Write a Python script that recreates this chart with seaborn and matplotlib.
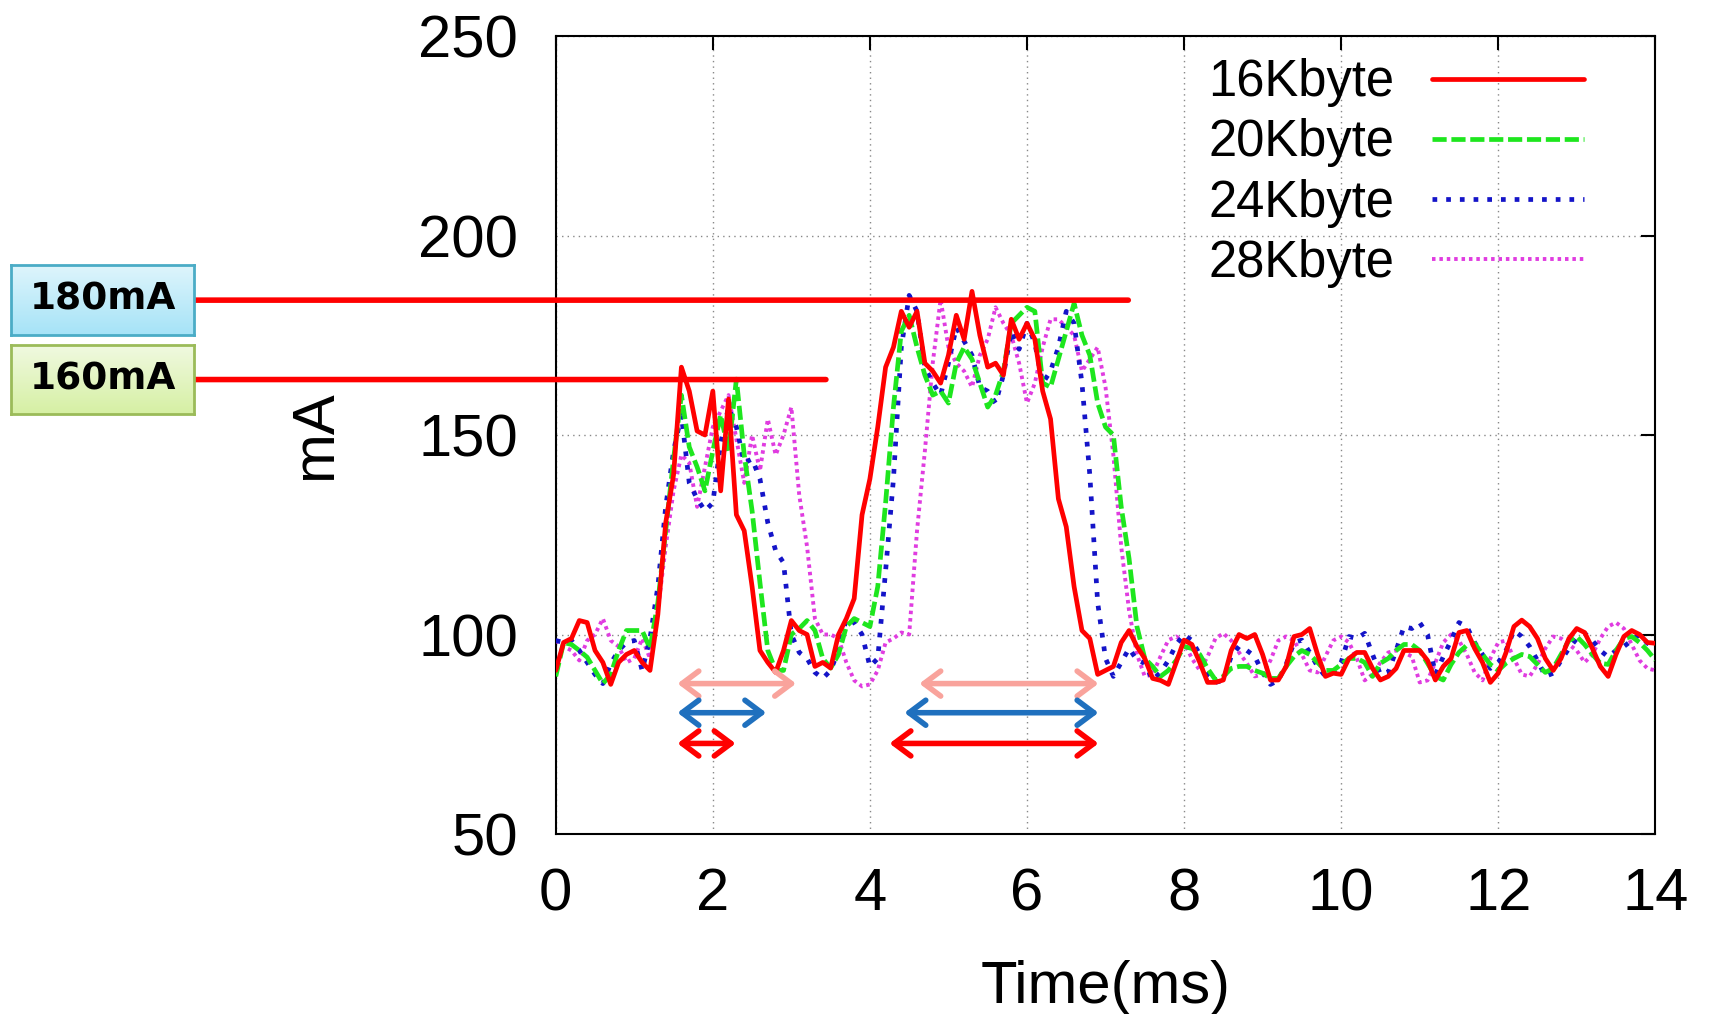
import numpy as np
import pandas as pd
import matplotlib.pyplot as plt
from matplotlib.colors import LinearSegmentedColormap
import seaborn as sns

# sampling grid (ms)
time_ms = np.round(np.arange(141) * 0.1, 1)

kb16 = [91, 98, 99, 103.5, 103, 96, 93, 87.5, 93, 95,
        96, 93, 91, 105, 128, 140, 167, 161, 151, 150,
        161, 136, 159, 130, 126, 112, 96, 93, 90.5, 96,
        103.5, 101, 100, 92, 93, 91.6, 100, 104, 109, 130,
        139, 152, 167, 172, 181, 177, 181, 168, 166, 163,
        170, 180, 174, 186, 175, 167, 168, 165, 179, 174,
        178, 174, 161, 154, 134, 127, 112, 101, 99, 90,
        91, 92, 98, 101, 97, 94, 89, 88.5, 87.5, 93,
        98.6, 97.5, 93, 88, 88, 88.6, 96, 100, 99, 100,
        95, 88.6, 88.6, 92, 99.5, 100, 101.5, 95, 89.5, 90.3,
        90, 94, 95.5, 95.5, 91.5, 88.6, 89.5, 91.5, 96, 96,
        96, 93.5, 88.6, 92, 94, 100.5, 101, 96.5, 93, 88,
        90.3, 95.5, 102, 103.6, 102, 99, 94, 91, 94, 99,
        101.5, 100.5, 96.5, 92, 89.5, 95, 99.5, 101, 100, 98,
        97.8]
kb20 = [89.5, 98, 97.5, 96, 94.3, 91, 87.7, 90, 96, 101,
        101, 101, 96.5, 108, 126, 144, 160, 147, 142, 136,
        146, 155, 146, 164, 145, 131, 113, 96, 91, 91,
        100, 101.5, 103.5, 101, 94, 91.6, 95, 102, 104, 103,
        102, 112, 133, 157, 176, 180, 172, 165, 160, 161,
        158, 168, 172, 169, 163, 157, 160, 166, 178, 180,
        182, 181, 163, 162, 169, 176, 183, 175, 170, 158,
        152, 150, 132, 119, 102, 94, 92, 89.5, 91, 93.5,
        97, 96.5, 95, 91.5, 88.6, 89.5, 91.5, 92, 92, 91,
        90.3, 89, 89, 92, 94.5, 96, 95, 93, 91, 91,
        92.5, 94, 94, 93, 89.5, 92.8, 94, 96, 97.5, 97.5,
        96, 92.8, 89.5, 88.6, 92.5, 95.5, 97.3, 97.8, 95, 92.5,
        91, 92.8, 94, 95, 94.5, 92.5, 90.5, 91.5, 95, 98.5,
        99.5, 97.5, 95, 92.8, 92.5, 96, 99, 99.5, 98, 96,
        93.6]
kb24 = [98.5, 98, 98.5, 96, 93, 90, 87.7, 92.7, 96, 98,
        98.5, 91, 99, 112, 132, 146, 155, 138, 134, 131,
        133, 148, 157, 152, 143, 144, 139, 128, 121, 118,
        100, 95.5, 94, 90.5, 89, 91, 96, 104, 103, 100,
        92, 94, 116, 139, 172, 185, 181, 167, 163, 160,
        168, 177, 173.5, 170, 162, 161, 158, 165, 176, 171.5,
        178, 173, 163, 166, 172, 181, 178, 163, 140, 108,
        94, 89.5, 93, 96.5, 93.6, 92.8, 88.6, 90.5, 93.5, 97.5,
        100, 98.5, 95, 90, 88, 88.5, 94.5, 97, 96, 94.5,
        90.5, 87.5, 88.5, 92.5, 98, 98.6, 95.5, 92, 89.5, 90.5,
        93, 99.5, 99, 100.3, 95, 90, 90.5, 96, 102, 101.5,
        103, 100, 90, 94.4, 98.5, 103, 102, 98, 95, 91.5,
        93, 96, 101, 99.5, 97, 93.5, 89.5, 90.3, 93.5, 96.5,
        99, 100.3, 98.5, 96, 94.4, 96, 97, 98.5, 100, 97.8,
        97]
kb28 = [98.5, 97, 96, 93.5, 98.5, 100, 104, 98.5, 97, 93,
        94, 99, 94, 106, 122, 136, 145, 143, 132, 142,
        152, 156, 160, 149, 138, 150, 141, 154, 145, 150,
        157, 135, 122, 104, 100, 100, 99, 93, 88.5, 87,
        87.5, 91, 98, 99, 100.5, 100, 126, 146, 168, 184,
        172, 168, 166, 162, 170, 174, 182, 178, 175, 168,
        158, 163, 172, 179, 179, 177, 175, 166, 169, 172,
        162, 145, 122, 106, 95, 89.5, 90, 94.5, 98.6, 99.5,
        98, 94, 91, 94.5, 99, 100.3, 98.5, 95.5, 92.8, 89.5,
        90, 93.5, 98.5, 99.5, 98.5, 95, 91, 90.5, 94.5, 98.5,
        99.5, 98, 94, 88.5, 90, 93, 95.5, 96, 95.5, 94.5,
        88, 88.5, 93, 98, 100, 98.5, 95, 90.5, 88.5, 94,
        98, 98.5, 94, 90, 89.5, 92.5, 96.5, 99.5, 99, 97.5,
        96, 93, 95, 99, 102, 103, 101.5, 97.5, 93.5, 91.5,
        91]

labels = ['16Kbyte', '20Kbyte', '24Kbyte', '28Kbyte']
colors = ['#ff0000', '#1ee61e', '#1414c8', '#e03ce0']
styles = ['-', (0, (3, 1.0)), (0, (1.0, 1.9)), (0, (0.9, 1.0))]
widths = [3.4, 3.4, 3.4, 2.8]

# horizontal level markers
level_labels = ['180mA', '160mA']
level_values = [183.8, 163.9]
level_ends = [7.29, 3.44]

# duration arrows
arrow_colors = ['#f9a39c', '#1f70be', '#ff0000']
arrow_y = [87.7, 80.4, 72.7]
arrow_first = [(1.55, 3.06), (1.55, 2.68), (1.55, 2.29)]
arrow_second = [(4.63, 6.91), (4.44, 6.91), (4.25, 6.91)]

df = pd.DataFrame({'time': np.tile(time_ms, 4),
                   'mA': np.concatenate([kb16, kb20, kb24, kb28]),
                   'size': np.repeat(labels, len(time_ms))})

sns.set_theme(style='white')
plt.rcParams['font.family'] = ['Liberation Sans', 'DejaVu Sans']
plt.rcParams['text.color'] = 'black'
plt.rcParams['axes.labelcolor'] = 'black'

fig = plt.figure(figsize=(17.1, 10.14), dpi=100)
ax = fig.add_axes([0.325, 0.1775, 0.643, 0.787])

for i, name in enumerate(labels):
    sub = df[df['size'] == name]
    sns.lineplot(data=sub, x='time', y='mA', ax=ax, color=colors[i],
                 linestyle=styles[i], lw=widths[i], label=name,
                 errorbar=None, zorder=10 - i)

ax.set_xlim(0, 14)
ax.set_ylim(50, 250)
ax.set_xticks(range(0, 15, 2))
ax.set_yticks(range(50, 251, 50))
ax.grid(True, linestyle=(0, (1, 3)), color='#888888', lw=1)
ax.tick_params(direction='in', length=10, width=1.5, top=True, right=True,
               labelsize=43, colors='black')
ax.tick_params(axis='y', pad=27)
ax.tick_params(axis='x', pad=24)
for s in ax.spines.values():
    s.set_color('black')
    s.set_linewidth(1.5)

ax.set_xlabel('Time(ms)', fontsize=43)
ax.set_ylabel('mA', fontsize=43)
ax.xaxis.set_label_coords(0.5, -0.158)
ax.yaxis.set_label_coords(-0.193, 0.5)

ax.legend(loc='upper right', bbox_to_anchor=(0.935, 0.972), frameon=False,
          markerfirst=False, fontsize=36.5, handlelength=3.0, handletextpad=0.73,
          labelspacing=0.22, borderpad=0, borderaxespad=0)

# labelled boxes on the left
box_pos = [[11 / 1710, 1 - 335 / 1014, 183 / 1710, 70 / 1014],
           [11 / 1710, 1 - 414 / 1014, 183 / 1710, 69 / 1014]]
box_cols = [('#a6e3f7', '#def5fc', '#4bacc6'), ('#d6f0a4', '#f0f9e0', '#9bbb59')]
for pos, (c1, c2, edge), txt in zip(box_pos, box_cols, level_labels):
    bax = fig.add_axes(pos)
    cmap = LinearSegmentedColormap.from_list('g', [c1, c2])
    bax.imshow(np.linspace(0, 1, 50).reshape(-1, 1), cmap=cmap, aspect='auto',
               extent=[0, 1, 0, 1], origin='lower')
    bax.set_xticks([])
    bax.set_yticks([])
    for s in bax.spines.values():
        s.set_color(edge)
        s.set_linewidth(2)
    bax.text(0.5, 0.5, txt, ha='center', va='center', fontsize=27,
             fontweight='bold', family='DejaVu Sans', color='black')

for val, end in zip(level_values, level_ends):
    ax.annotate('', xy=(end, val), xytext=(194 / 1710, val),
                textcoords=('figure fraction', 'data'), annotation_clip=False,
                arrowprops=dict(arrowstyle='-', color='#ff0000', lw=4,
                                shrinkA=0, shrinkB=0), zorder=20)

for c, y, a, b in zip(arrow_colors, arrow_y, arrow_first, arrow_second):
    for x0, x1 in (a, b):
        ax.annotate('', xy=(x1, y), xytext=(x0, y),
                    arrowprops=dict(arrowstyle='<->,head_length=0.6,head_width=0.45',
                                    color=c, lw=4, shrinkA=0, shrinkB=0,
                                    mutation_scale=20), zorder=20)

fig.savefig('out.png', dpi=100)
